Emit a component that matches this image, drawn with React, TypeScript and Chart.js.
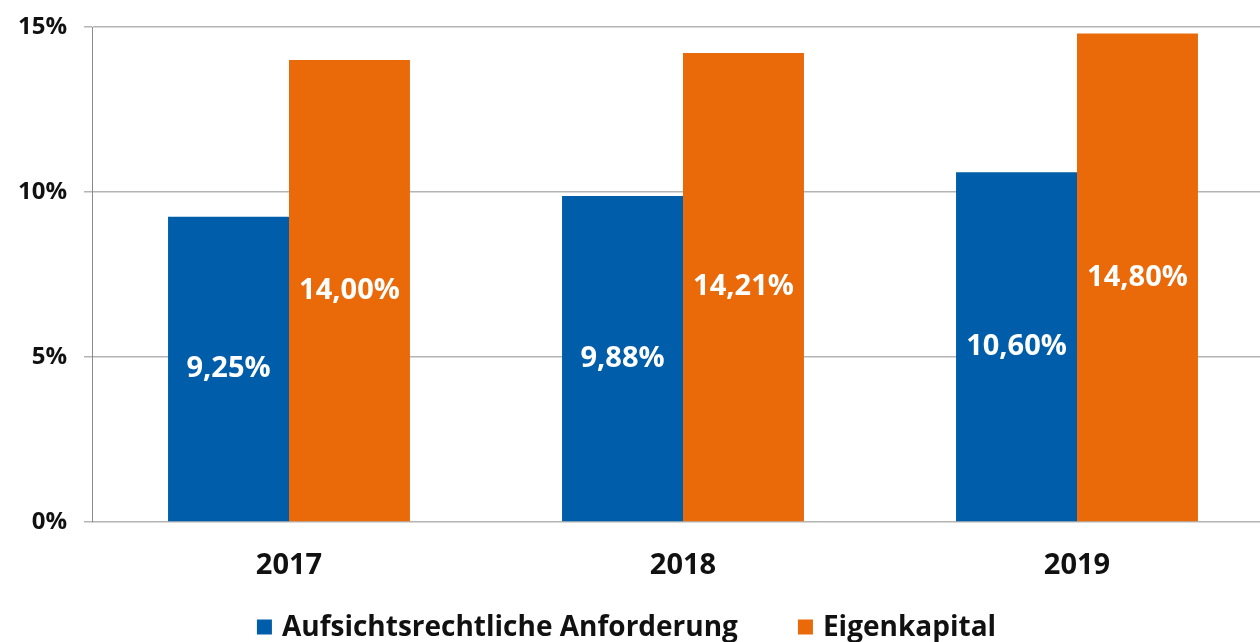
import React, { useEffect, useRef } from "react";
import { Chart, registerables } from "chart.js";

Chart.register(...registerables);

const categories = ["2017", "2018", "2019"];
const seriesNames = ["Aufsichtsrechtliche Anforderung", "Eigenkapital"];
const anforderung = [9.25, 9.88, 10.6];
const eigenkapital = [14.0, 14.21, 14.8];
const yTicks = [0, 5, 10, 15];

const BLUE = "#005DA9";
const ORANGE = "#EA6A0A";
const FONT = "'Open Sans', 'DejaVu Sans', sans-serif";

const fmt = (v: number) => v.toFixed(2).replace(".", ",") + "%";

const valueLabels = {
  id: "valueLabels",
  afterDatasetsDraw(chart: any) {
    const ctx = chart.ctx;
    ctx.save();
    ctx.fillStyle = "#ffffff";
    ctx.font = `bold 29px ${FONT}`;
    ctx.textAlign = "center";
    ctx.textBaseline = "middle";
    chart.data.datasets.forEach((ds: any, di: number) => {
      const meta = chart.getDatasetMeta(di);
      meta.data.forEach((el: any, i: number) => {
        const y = (el.y + el.base) / 2;
        ctx.fillText(fmt(ds.data[i]), el.x, y);
      });
    });
    ctx.restore();
  },
};

const customLegend = {
  id: "customLegend",
  afterDraw(chart: any) {
    const ctx = chart.ctx;
    ctx.save();
    ctx.font = `bold 28px ${FONT}`;
    ctx.textBaseline = "middle";
    ctx.textAlign = "left";
    const box = 15;
    const gapBoxText = 10;
    const gapItems = 60;
    const items = chart.data.datasets.map((ds: any) => ({
      label: ds.label,
      color: ds.backgroundColor,
      w: box + gapBoxText + ctx.measureText(ds.label).width,
    }));
    const total = items.reduce((s: number, it: any) => s + it.w, 0) + gapItems * (items.length - 1);
    const centerX = 626.5;
    const cy = 627;
    let x = centerX - total / 2;
    items.forEach((it: any) => {
      ctx.fillStyle = it.color;
      ctx.fillRect(x, cy - box / 2, box, box);
      ctx.fillStyle = "#111111";
      ctx.fillText(it.label, x + box + gapBoxText, cy + 1);
      x += it.w + gapItems;
    });
    ctx.restore();
  },
};

export default function App() {
  const ref = useRef<HTMLCanvasElement>(null);
  useEffect(() => {
    if (!ref.current) return;
    const chart = new Chart(ref.current, {
      type: "bar",
      data: {
        labels: categories,
        datasets: [
          { label: seriesNames[0], data: anforderung, backgroundColor: BLUE, borderWidth: 0 },
          { label: seriesNames[1], data: eigenkapital, backgroundColor: ORANGE, borderWidth: 0 },
        ],
      },
      options: {
        responsive: false,
        animation: false,
        layout: { padding: { top: 27, bottom: 50, left: 0, right: 2 } },
        plugins: {
          legend: { display: false },
          tooltip: { enabled: false },
        },
        datasets: {
          bar: { barPercentage: 1, categoryPercentage: 0.614 },
        },
        scales: {
          x: {
            grid: { display: false },
            border: { display: false },
            ticks: {
              color: "#111111",
              font: { family: FONT, size: 29, weight: "bold" },
              padding: 18,
            },
            afterFit(scale: any) {
              scale.height = 70;
              scale.paddingLeft = 0;
              scale.paddingRight = 0;
            },
          },
          y: {
            min: 0,
            max: 15,
            afterBuildTicks(scale: any) {
              scale.ticks = yTicks.map((v) => ({ value: v }));
            },
            grid: { color: "#b4b4b4", lineWidth: 1.5, tickLength: 8 },
            border: { display: true, color: "#8a8a8a", width: 1 },
            ticks: {
              color: "#111111",
              font: { family: FONT, size: 24, weight: "bold" },
              padding: 17,
              callback: (v: any) => v + "%",
            },
            afterFit(scale: any) {
              scale.width = 92;
              scale.paddingTop = 0;
              scale.paddingBottom = 0;
            },
          },
        },
      },
      plugins: [valueLabels, customLegend],
    });
    return () => chart.destroy();
  }, []);
  return (
    <div style={{ position: "absolute", left: 0, top: 0, width: 1260, height: 642, overflow: "hidden", background: "#fff" }}>
      <canvas ref={ref} width={1276} height={642} style={{ display: "block" }} />
    </div>
  );
}
